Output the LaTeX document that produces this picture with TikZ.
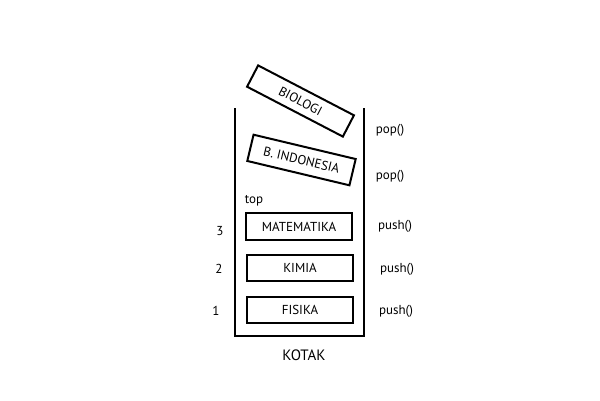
\documentclass[tikz,border=0pt]{standalone}
\usepackage{fontspec}
\setmainfont{PT Sans}
\begin{document}
\begin{tikzpicture}[x=1pt,y=-1pt,
  item/.style={draw,line width=2pt,inner sep=0pt,font=\fontsize{13}{15}\selectfont},
  lbl/.style={inner sep=0pt,font=\fontsize{13}{15}\selectfont},
  wall/.style={line width=2.2pt}]
\useasboundingbox (0,0) rectangle (600,400);
% container
\coordinate (tl) at (235,108);
\coordinate (tr) at (364,108);
\coordinate (bl) at (235,336);
\coordinate (br) at (364,336);
\draw[wall] (tl) -- (bl) -- (br) -- (tr);
% stacked items
\node[item,minimum width=106pt,minimum height=27pt] (mat) at (299,226.5) {MATEMATIKA};
\node[item,minimum width=106pt,minimum height=26pt] (kim) at (300,268) {KIMIA};
\node[item,minimum width=106pt,minimum height=26pt] (fis) at (300,310) {FISIKA};
% popped items
\node[item,minimum width=108pt,minimum height=24pt,rotate=-27.5] (bio) at (300.5,101) {BIOLOGI};
\node[item,minimum width=105pt,minimum height=27pt,rotate=-13.4] (ind) at (301.5,160) {B. INDONESIA};
% labels
\node[lbl] (top) at (254,201) {top};
\node[lbl] (n3) at (220,231) {3};
\node[lbl] (n2) at (219,269) {2};
\node[lbl] (n1) at (216,311) {1};
\node[lbl] (p3) at (395,226) {push()};
\node[lbl] (p2) at (397,269) {push()};
\node[lbl] (p1) at (396,311) {push()};
\node[lbl] (o1) at (390,130) {pop()};
\node[lbl] (o2) at (390,176) {pop()};
\node[lbl,font=\fontsize{15}{18}\selectfont] (kotak) at (304,355) {KOTAK};
\end{tikzpicture}
\end{document}
